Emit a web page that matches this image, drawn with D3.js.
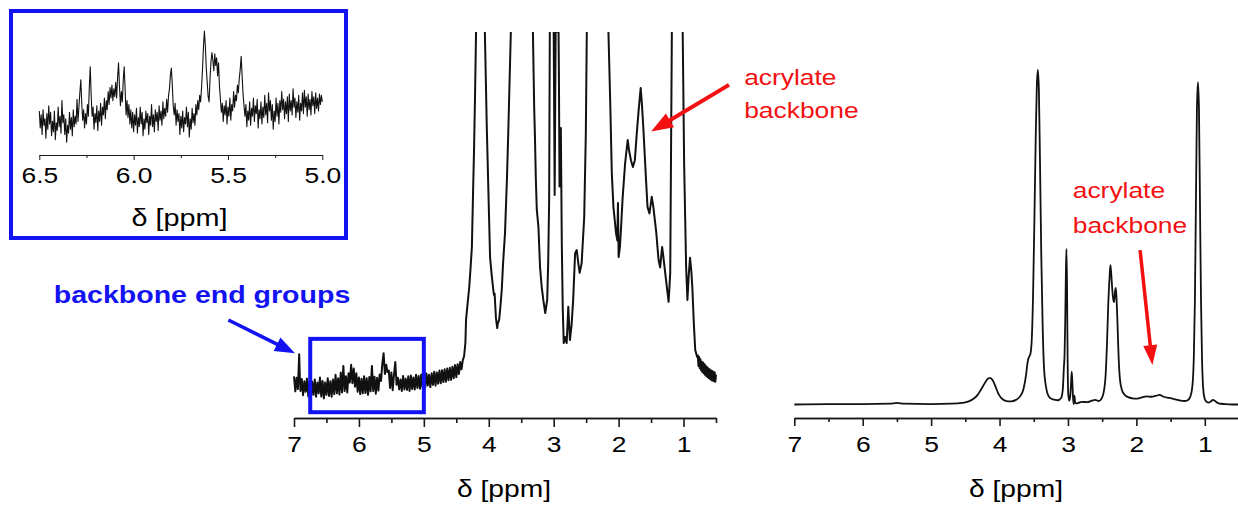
<!DOCTYPE html>
<html>
<head>
<meta charset="utf-8">
<script src="https://cdn.jsdelivr.net/npm/d3@7"></script>
<style>
  html, body { margin: 0; padding: 0; background: #ffffff; }
  svg { display: block; }
</style>
</head>
<body>
<svg id="chart" width="1238" height="508"></svg>
<script>
// ---------------- data ----------------
// chemical shift ticks (ppm)
const mainTicks = [7, 6, 5, 4, 3, 2, 1];
const mainMinorTicks = [6.5, 5.5, 4.5, 3.5, 2.5, 1.5, 0.5];
const insetTicks = [6.5, 6.0, 5.5, 5.0];
const insetMinorTicks = [6.25, 5.75, 5.25];
const axisTitle = "δ [ppm]";

// end-group window that is magnified in the inset (ppm)
const endGroupWindow = [6.75, 5.0];

// spectrum of the polymer, zoomed vertically (ppm, relative intensity; >100 runs off scale)
const spectrumZoomed = [
  [7.00,10.8],[6.98,6.9],[6.96,10.4],[6.94,7.5],[6.93,12.0],[6.92,16.5],[6.91,10.5],[6.90,7.0],[6.88,10.1],[6.86,5.9],
  [6.84,9.5],[6.82,6.8],[6.80,10.2],[6.78,5.6],[6.76,9.3],[6.74,5.3],[6.72,9.4],[6.70,6.0],[6.68,10.0],[6.66,5.5],
  [6.64,9.2],[6.62,6.4],[6.60,10.5],[6.58,5.6],[6.56,9.6],[6.54,5.1],[6.52,9.2],[6.50,6.0],[6.48,10.3],[6.46,5.7],
  [6.44,9.5],[6.42,5.5],[6.40,10.0],[6.38,6.2],[6.36,11.2],[6.34,6.4],[6.32,10.3],[6.30,6.1],[6.28,11.8],[6.26,6.6],
  [6.24,13.5],[6.22,7.0],[6.20,10.8],[6.18,6.6],[6.16,11.6],[6.14,9.2],[6.12,13.8],[6.10,9.0],[6.08,12.8],[6.06,8.1],
  [6.04,11.6],[6.02,6.8],[6.00,10.5],[5.98,6.2],[5.96,10.2],[5.94,6.4],[5.92,10.8],[5.90,6.5],[5.88,10.3],[5.86,6.0],
  [5.84,10.6],[5.82,6.9],[5.80,13.5],[5.78,7.0],[5.76,10.7],[5.74,6.3],[5.72,10.4],[5.70,7.1],[5.68,11.3],[5.66,9.6],
  [5.64,14.0],[5.62,16.8],[5.60,11.4],[5.58,13.8],[5.56,11.9],[5.54,12.3],[5.52,7.8],[5.50,11.8],[5.48,7.2],[5.46,11.2],
  [5.44,14.5],[5.42,8.6],[5.40,10.4],[5.38,7.4],[5.36,10.0],[5.34,7.0],[5.32,10.9],[5.30,7.4],[5.28,10.2],[5.26,7.3],
  [5.24,10.8],[5.22,7.0],[5.20,11.0],[5.18,7.5],[5.16,10.5],[5.14,7.4],[5.12,11.2],[5.10,7.8],[5.08,10.9],[5.06,7.6],
  [5.04,11.3],[5.02,7.9],[5.00,11.0],[4.98,7.9],[4.96,11.5],[4.94,8.4],[4.92,11.2],[4.90,8.0],[4.88,11.6],[4.86,8.6],
  [4.84,12.0],[4.82,8.4],[4.80,11.8],[4.78,8.9],[4.76,12.3],[4.74,9.0],[4.72,12.4],[4.70,9.3],[4.68,12.6],[4.66,9.4],
  [4.64,12.8],[4.62,9.8],[4.60,13.0],[4.58,9.9],[4.56,13.3],[4.54,10.3],[4.52,13.7],[4.50,10.6],[4.48,13.9],[4.46,11.4],
  [4.44,14.5],[4.42,12.6],[4.40,15.0],[4.38,16.0],[4.36,19.5],[4.35,25.4],[4.33,29.0],[4.30,34.0],[4.28,39.0],[4.26,44.3],
  [4.24,60.0],[4.227,69.4],[4.21,85.0],[4.196,100],[4.13,135],[4.06,100],[4.03,75.0],[4.00,55.0],[3.98,41.7],[3.955,37.0],
  [3.93,33.2],[3.92,31.9],[3.91,32.2],[3.89,26.0],[3.87,23.3],[3.86,24.5],[3.84,25.4],[3.82,29.0],[3.80,33.2],[3.78,40.0],
  [3.75,47.9],[3.72,62.0],[3.70,73.8],[3.66,100],[3.48,140],[3.32,100],[3.30,80.0],[3.29,73.8],[3.275,62.0],[3.26,53.9],
  [3.235,49.5],[3.21,39.0],[3.185,34.0],[3.16,30.6],[3.13,27.2],[3.10,30.6],[3.085,40.0],[3.07,56.5],[3.06,100],[3.03,125],
  [3.00,100],[2.985,57.8],[2.97,100],[2.955,125],[2.94,100],[2.93,110],[2.92,90.0],[2.91,60.0],[2.90,65.0],[2.89,75.1],
  [2.875,45.0],[2.86,28.0],[2.845,19.4],[2.825,21.0],[2.80,19.4],[2.775,28.8],[2.75,20.2],[2.725,24.0],[2.70,30.6],[2.67,42.7],
  [2.645,43.5],[2.62,40.0],[2.60,37.6],[2.57,40.0],[2.53,52.0],[2.505,73.8],[2.49,100],[2.33,150],[2.157,100],[2.13,82.4],
  [2.105,63.5],[2.08,54.7],[2.04,47.9],[2.02,46.0],[2.01,55.7],[2.00,41.7],[1.98,44.3],[1.96,50.0],[1.94,56.5],[1.90,66.0],
  [1.86,72.0],[1.84,69.4],[1.81,66.8],[1.78,65.0],[1.75,66.8],[1.72,73.8],[1.69,80.0],[1.66,85.5],[1.64,81.0],[1.62,75.4],
  [1.58,62.4],[1.555,54.7],[1.525,53.0],[1.49,57.3],[1.465,54.7],[1.42,48.0],[1.385,41.0],[1.36,39.0],[1.33,44.3],[1.31,41.7],
  [1.27,35.8],[1.23,30.1],[1.205,37.6],[1.18,100],[1.10,140],[1.013,100],[0.99,65.0],[0.96,39.0],[0.94,30.6],[0.92,37.0],
  [0.90,41.5],[0.88,38.0],[0.865,34.0],[0.84,24.0],[0.82,17.6],[0.79,15.8],[0.78,16.2],[0.77,13.5],[0.76,15.8],[0.75,12.9],
  [0.74,15.2],[0.73,12.4],[0.72,14.6],[0.71,11.9],[0.70,14.4],[0.69,11.6],[0.68,14.0],[0.67,11.2],[0.66,13.6],[0.65,10.9],
  [0.64,13.2],[0.63,10.6],[0.62,12.9],[0.61,10.3],[0.60,12.6],[0.59,10.1],[0.58,12.4],[0.57,9.8],[0.56,12.2],[0.55,9.7],
  [0.54,12.0],[0.53,9.5],[0.52,11.8],[0.51,9.4],[0.50,11.2]
];

// full-scale spectrum (ppm, relative intensity)
const spectrumFull = [
  [7.00,3.5],[6.50,3.6],[6.00,3.6],[5.60,3.7],[5.50,3.9],[5.40,3.7],[5.00,3.6],[4.70,3.7],[4.55,3.9],[4.45,4.3],
  [4.38,5.0],[4.32,6.0],[4.27,7.4],[4.22,8.9],[4.18,10.0],[4.14,10.4],[4.10,9.8],[4.06,8.2],[4.02,6.4],[3.97,5.1],
  [3.90,4.4],[3.83,4.3],[3.76,4.7],[3.70,5.6],[3.65,7.5],[3.61,11.5],[3.59,14.5],[3.57,15.8],[3.55,16.5],[3.53,20.0],
  [3.51,32.0],[3.49,52.0],[3.47,74.0],[3.455,86.0],[3.44,90.2],[3.425,85.0],[3.41,68.0],[3.39,42.0],[3.37,24.0],[3.35,13.0],
  [3.32,8.0],[3.28,5.6],[3.22,4.8],[3.15,4.6],[3.10,5.2],[3.075,7.5],[3.06,13.0],[3.05,16.3],[3.04,25.0],[3.03,38.0],
  [3.022,43.8],[3.014,35.0],[3.005,15.0],[2.995,6.0],[2.98,4.5],[2.965,6.0],[2.955,9.0],[2.945,12.0],[2.935,9.0],[2.925,5.0],
  [2.915,3.6],[2.905,5.8],[2.895,4.0],[2.88,3.8],[2.85,3.9],[2.80,4.2],[2.72,4.1],[2.65,4.5],[2.60,4.7],[2.55,4.4],
  [2.51,5.0],[2.48,6.5],[2.45,11.0],[2.43,19.0],[2.41,30.0],[2.39,37.0],[2.38,39.6],[2.37,38.0],[2.355,34.0],[2.34,31.0],
  [2.325,30.0],[2.31,33.0],[2.30,33.7],[2.29,31.0],[2.275,24.0],[2.26,16.0],[2.24,10.0],[2.21,7.2],[2.17,6.0],[2.12,5.4],
  [2.06,5.1],[2.00,5.0],[1.93,5.3],[1.85,5.6],[1.78,5.5],[1.72,5.7],[1.66,6.0],[1.60,5.5],[1.52,5.2],[1.45,4.9],
  [1.38,4.6],[1.30,4.4],[1.25,4.6],[1.21,5.6],[1.18,8.5],[1.16,16.0],[1.145,30.0],[1.13,55.0],[1.115,80.0],[1.10,87.0],
  [1.085,80.0],[1.07,55.0],[1.055,30.0],[1.04,15.0],[1.025,8.0],[1.005,5.2],[0.98,4.3],[0.95,4.0],[0.91,4.3],[0.88,4.7],
  [0.85,4.4],[0.80,3.8],[0.70,3.6],[0.60,3.5],[0.50,3.5]
];

// end-group region 6.5–5.0 ppm, magnified (ppm, relative intensity)
const spectrumEndGroups = [
  [6.500,30],[6.495,17],[6.490,27],[6.485,12],[6.480,31],[6.475,19],[6.470,24],[6.465,9],[6.460,28],[6.455,16],
  [6.450,34],[6.445,20],[6.440,29],[6.435,11],[6.430,22],[6.425,14],[6.420,30],[6.415,8],[6.410,21],[6.405,15],
  [6.400,33],[6.395,18],[6.390,26],[6.385,13],[6.380,38],[6.375,21],[6.370,27],[6.365,12],[6.360,24],[6.355,6],
  [6.350,19],[6.345,13],[6.340,29],[6.335,16],[6.330,25],[6.325,11],[6.320,31],[6.315,18],[6.310,26],[6.305,20],
  [6.300,39],[6.295,22],[6.290,33],[6.285,44],[6.280,54],[6.275,36],[6.270,23],[6.265,31],[6.260,17],[6.255,28],
  [6.250,20],[6.245,35],[6.240,26],[6.235,48],[6.230,64],[6.225,42],[6.220,26],[6.215,33],[6.210,16],[6.205,28],
  [6.200,21],[6.195,34],[6.190,15],[6.185,30],[6.180,22],[6.175,36],[6.170,19],[6.165,33],[6.160,27],[6.155,40],
  [6.150,24],[6.145,38],[6.140,31],[6.135,45],[6.130,35],[6.125,48],[6.120,40],[6.115,50],[6.110,38],[6.105,47],
  [6.100,41],[6.095,52],[6.090,40],[6.085,56],[6.080,67],[6.075,49],[6.070,34],[6.065,45],[6.060,37],[6.055,54],
  [6.050,64],[6.045,46],[6.040,27],[6.035,38],[6.030,25],[6.025,35],[6.020,20],[6.015,31],[6.010,17],[6.005,29],
  [6.000,14],[5.995,27],[5.990,19],[5.985,32],[5.980,13],[5.975,25],[5.970,18],[5.965,33],[5.960,20],[5.955,29],
  [5.950,11],[5.945,24],[5.940,16],[5.935,30],[5.930,21],[5.925,28],[5.920,12],[5.915,26],[5.910,19],[5.905,35],
  [5.900,18],[5.895,27],[5.890,14],[5.885,31],[5.880,22],[5.875,29],[5.870,15],[5.865,34],[5.860,23],[5.855,30],
  [5.850,19],[5.845,37],[5.840,24],[5.835,32],[5.830,26],[5.825,39],[5.820,29],[5.815,42],[5.810,47],[5.805,58],
  [5.800,63],[5.795,50],[5.790,34],[5.785,27],[5.780,36],[5.775,19],[5.770,31],[5.765,22],[5.760,28],[5.755,12],
  [5.750,26],[5.745,17],[5.740,30],[5.735,14],[5.730,25],[5.725,20],[5.720,33],[5.715,18],[5.710,29],[5.705,10],
  [5.700,24],[5.695,16],[5.690,32],[5.685,21],[5.680,28],[5.675,19],[5.670,35],[5.665,27],[5.660,38],[5.655,31],
  [5.650,42],[5.645,37],[5.640,48],[5.635,62],[5.630,79],[5.625,91.5],[5.620,80],[5.615,63],[5.610,52],[5.605,41],
  [5.600,37],[5.595,55],[5.590,68],[5.585,75],[5.580,69],[5.575,61],[5.570,74],[5.565,65],[5.560,71],[5.555,57],
  [5.550,67],[5.545,49],[5.540,39],[5.535,29],[5.530,36],[5.525,22],[5.520,34],[5.515,27],[5.510,38],[5.505,20],
  [5.500,33],[5.495,26],[5.490,40],[5.485,23],[5.480,35],[5.475,30],[5.470,45],[5.465,33],[5.460,42],[5.455,38],
  [5.450,50],[5.445,44],[5.440,55],[5.435,62],[5.430,72],[5.425,57],[5.420,43],[5.415,34],[5.410,26],[5.405,35],
  [5.400,18],[5.395,30],[5.390,23],[5.385,37],[5.380,19],[5.375,32],[5.370,26],[5.365,40],[5.360,22],[5.355,34],
  [5.350,28],[5.345,39],[5.340,17],[5.335,31],[5.330,24],[5.325,37],[5.320,20],[5.315,33],[5.310,25],[5.305,42],
  [5.300,27],[5.295,36],[5.290,21],[5.285,44],[5.280,30],[5.275,38],[5.270,23],[5.265,35],[5.260,16],[5.255,30],
  [5.250,22],[5.245,40],[5.240,26],[5.235,36],[5.230,20],[5.225,38],[5.220,29],[5.215,45],[5.210,31],[5.205,39],
  [5.200,24],[5.195,37],[5.190,28],[5.185,41],[5.180,22],[5.175,43],[5.170,30],[5.165,38],[5.160,27],[5.155,47],
  [5.150,33],[5.145,40],[5.140,25],[5.135,37],[5.130,29],[5.125,42],[5.120,23],[5.115,36],[5.110,30],[5.105,44],
  [5.100,28],[5.095,46],[5.090,33],[5.085,41],[5.080,26],[5.075,43],[5.070,31],[5.065,39],[5.060,27],[5.055,45],
  [5.050,34],[5.045,41],[5.040,28],[5.035,44],[5.030,32],[5.025,40],[5.020,30],[5.015,43],[5.010,35],[5.005,42],
  [5.000,37]
];

// annotations: label lines and arrows in data coordinates (ppm, intensity)
const noteEndGroups = { lines: ["backbone end groups"], at: [10.70, 29.8], from: [8.01, 25.4], to: [6.985, 16.8] };
const noteBackboneZoomed = { lines: ["acrylate", "backbone"], at: [0.066, 86.3], from: [0.30, 86.3], to: [1.50, 74.2] };
const noteBackboneFull = { lines: ["acrylate", "backbone"], at: [2.93, 56.9], from: [1.946, 43.5], to: [1.766, 13.7] };

// ---------------- drawing ----------------
const FONT = "'Liberation Sans', Arial, Helvetica, sans-serif";
const STRETCH = 1.2;           // glyphs are drawn slightly wide
const BLUE = "#1212f2";
const RED = "#f21010";
const INK = "#111111";

const svg = d3.select("#chart");
svg.append("rect").attr("width", 1238).attr("height", 508).attr("fill", "#ffffff");

function addText(g, x, y, str, size, color, weight, anchor) {
  return g.append("text")
    .attr("transform", `translate(${x},${y}) scale(${STRETCH},1)`)
    .attr("text-anchor", anchor || "start")
    .attr("font-family", FONT)
    .attr("font-size", size)
    .attr("font-weight", weight || "normal")
    .attr("fill", color)
    .text(str);
}

function arrow(g, x1, y1, x2, y2, color, width, headLen, headHalf) {
  const dx = x2 - x1, dy = y2 - y1, len = Math.hypot(dx, dy);
  const ux = dx / len, uy = dy / len;
  const bx = x2 - ux * headLen, by = y2 - uy * headLen;
  g.append("line")
    .attr("x1", x1).attr("y1", y1)
    .attr("x2", bx + ux * 2).attr("y2", by + uy * 2)
    .attr("stroke", color).attr("stroke-width", width);
  g.append("path")
    .attr("d", `M${x2},${y2}L${bx - uy * headHalf},${by + ux * headHalf}L${bx + uy * headHalf},${by - ux * headHalf}Z`)
    .attr("fill", color);
}

function drawAxis(g, x, y0, majors, minors, majorLen, minorLen, fontSize, labelY, fmt, strokeW) {
  const minorAxis = d3.axisBottom(x).tickValues(minors).tickSize(minorLen).tickSizeOuter(0).tickFormat("");
  const majorAxis = d3.axisBottom(x).tickValues(majors).tickSize(majorLen).tickSizeOuter(0).tickFormat(fmt);
  const gm = g.append("g").attr("transform", `translate(0,${y0})`).call(minorAxis);
  const gM = g.append("g").attr("transform", `translate(0,${y0})`).call(majorAxis);
  [gm, gM].forEach(a => {
    a.selectAll("path.domain, line").attr("stroke", "#1a1a1a").attr("stroke-width", strokeW);
  });
  gM.selectAll("text")
    .attr("y", labelY).attr("dy", null)
    .attr("font-size", fontSize).attr("font-family", FONT)
    .attr("fill", "#000")
    .attr("transform", `scale(${STRETCH},1)`);
}

function note(g, xs, ys, n, size, color, weight, lineGap, stroke, headLen, headHalf) {
  n.lines.forEach((t, i) => addText(g, xs(n.at[0]), ys(n.at[1]) + i * lineGap, t, size, color, weight));
  arrow(g, xs(n.from[0]), ys(n.from[1]), xs(n.to[0]), ys(n.to[1]), color, stroke, headLen, headHalf);
}

// ---- left panel: vertically zoomed spectrum ----
const xL = d3.scaleLinear().domain([7, 0.5]).range([294, 716]);
const yL = d3.scaleLinear().domain([0, 100]).range([418, 32]);
const gL = svg.append("g");

svg.append("clipPath").attr("id", "clipL")
  .append("rect").attr("x", 286).attr("y", 32).attr("width", 440).attr("height", 390);

gL.append("path")
  .datum(spectrumZoomed)
  .attr("clip-path", "url(#clipL)")
  .attr("fill", "none").attr("stroke", INK).attr("stroke-width", 2)
  .attr("stroke-linejoin", "round")
  .attr("d", d3.line().x(d => xL(d[0])).y(d => yL(d[1])));

drawAxis(gL, xL, 418, mainTicks, mainMinorTicks, 9, 5, 22, 34, d3.format("d"), 1.6);
addText(gL, 504, 497, axisTitle, 23.5, "#000", "normal", "middle");

// box marking the magnified end-group window
gL.append("rect")
  .attr("x", xL(endGroupWindow[0])).attr("y", yL(20.5))
  .attr("width", xL(endGroupWindow[1]) - xL(endGroupWindow[0]))
  .attr("height", yL(1.5) - yL(20.5))
  .attr("fill", "none").attr("stroke", BLUE).attr("stroke-width", 4);

note(gL, xL, yL, noteEndGroups, 23.8, BLUE, "bold", 0, 3.5, 20, 7.5);
note(gL, xL, yL, noteBackboneZoomed, 22, RED, "normal", 33, 4, 22, 8);

// ---- right panel: full-scale spectrum ----
const xR = d3.scaleLinear().domain([7, 0.5]).range([794.3, 1239]);
const yR = d3.scaleLinear().domain([0, 100]).range([418, 32]);
const gR = svg.append("g");

gR.append("path")
  .datum(spectrumFull)
  .attr("fill", "none").attr("stroke", INK).attr("stroke-width", 1.8)
  .attr("stroke-linejoin", "round")
  .attr("d", d3.line().curve(d3.curveMonotoneX).x(d => xR(d[0])).y(d => yR(d[1])));

drawAxis(gR, xR, 418, mainTicks, mainMinorTicks, 8, 4, 22, 34, d3.format("d"), 1.6);
addText(gR, 1016, 497, axisTitle, 23.5, "#000", "normal", "middle");

note(gR, xR, yR, noteBackboneFull, 22, RED, "normal", 35, 3.5, 20, 7);

// ---- inset: end-group region ----
const xI = d3.scaleLinear().domain([6.5, 5.0]).range([39.3, 322.3]);
const yI = d3.scaleLinear().domain([0, 100]).range([150, 20]);
const gI = svg.append("g");

gI.append("rect")
  .attr("x", 11).attr("y", 11).attr("width", 335).attr("height", 227)
  .attr("fill", "#ffffff").attr("stroke", BLUE).attr("stroke-width", 4);

gI.append("path")
  .datum(spectrumEndGroups)
  .attr("fill", "none").attr("stroke", INK).attr("stroke-width", 1.1)
  .attr("stroke-linejoin", "round")
  .attr("d", d3.line().x(d => xI(d[0])).y(d => yI(d[1])));

drawAxis(gI, xI, 155, insetTicks, insetMinorTicks, 5, 3, 22, 28, d3.format(".1f"), 1);
addText(gI, 179.5, 226, axisTitle, 24, "#000", "normal", "middle");
</script>
</body>
</html>
